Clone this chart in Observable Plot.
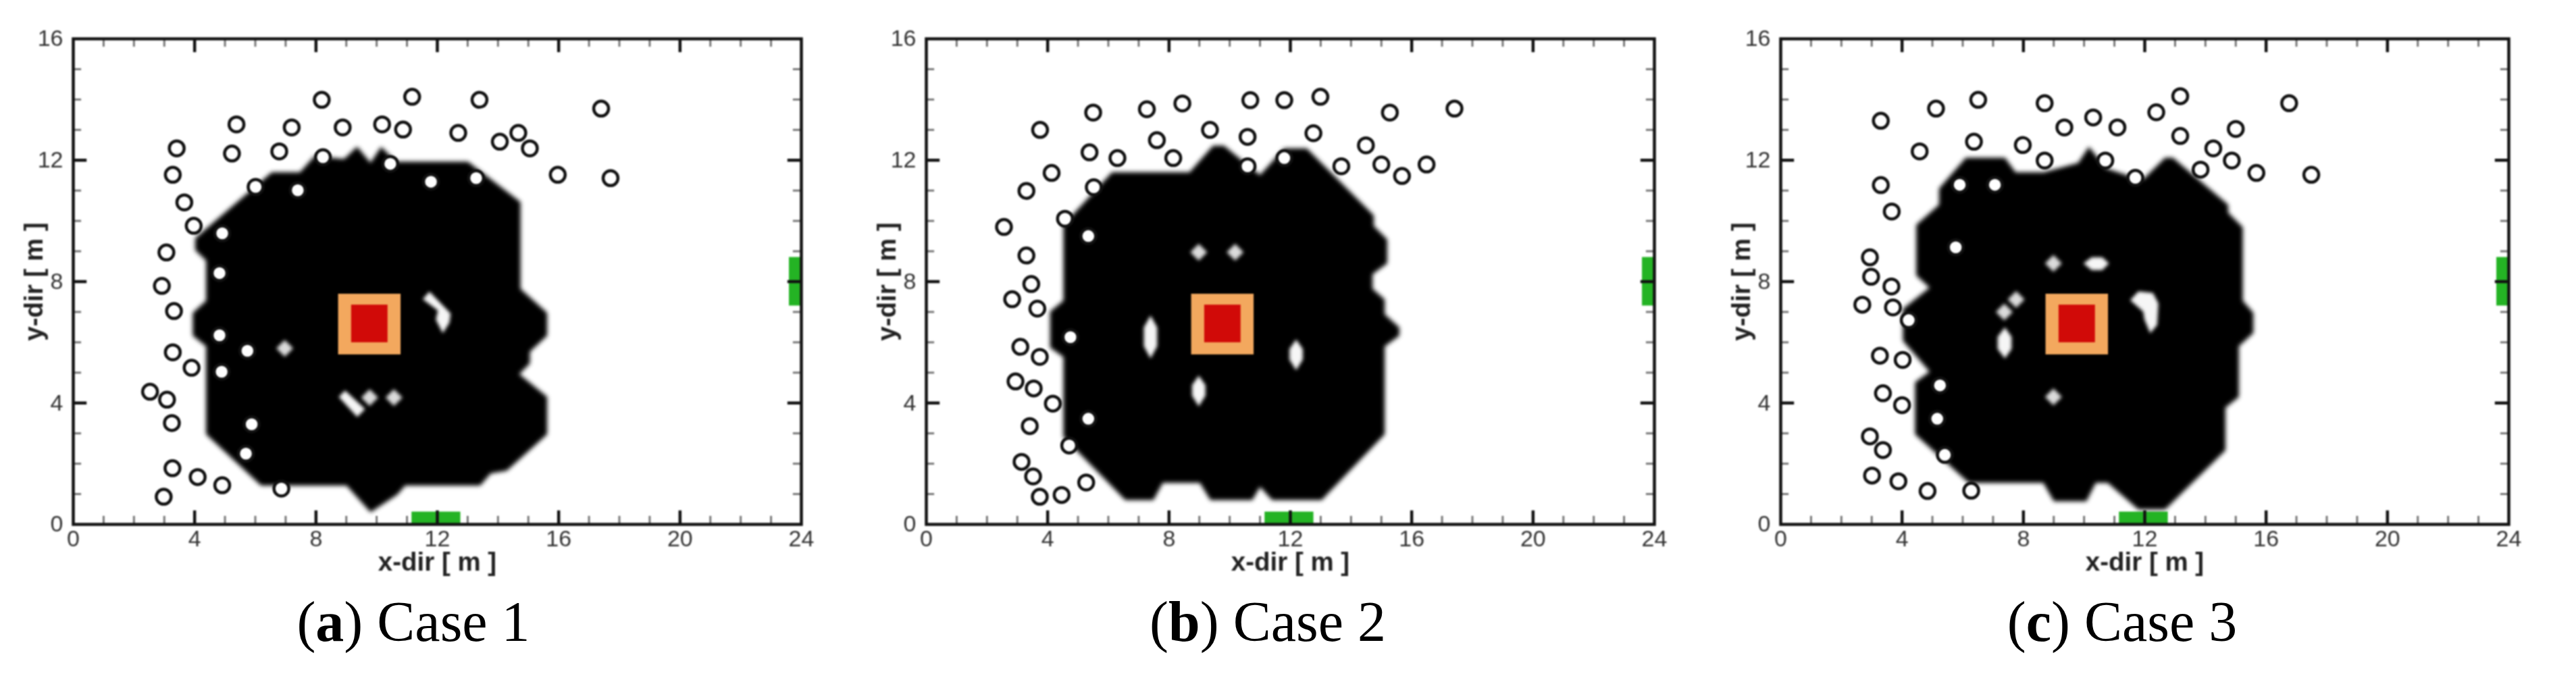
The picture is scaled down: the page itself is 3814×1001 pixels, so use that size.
<!DOCTYPE html>
<html>
<head>
<meta charset="utf-8">
<script src="https://cdn.jsdelivr.net/npm/d3@7"></script>
<script src="https://cdn.jsdelivr.net/npm/@observablehq/plot@0.6"></script>
<style>
html,body{margin:0;padding:0;background:#fff;}
#page{position:relative;width:3814px;height:1001px;overflow:hidden;background:#fff;}
#page svg{position:absolute;top:0;filter:blur(0.9px);}
.cap{position:absolute;top:873px;width:700px;text-align:center;font-family:"Liberation Serif",serif;font-size:84px;line-height:96px;color:#000;}
</style>
</head>
<body>
<div id="page"></div>
<script>
const xTicks = [0,4,8,12,16,20,24];
const yTicks = [0,4,8,12,16];
const xMinor = d3.range(1,24).filter(d => d % 4);
const yMinor = d3.range(1,16).filter(d => d % 4);
const xLabel = "x-dir [ m ]";
const yLabel = "y-dir [ m ]";
const captionLetters = ["a","b","c"];
const captionNames = ["Case 1","Case 2","Case 3"];

const outerSquare = [8.74,10.8,5.59,7.59];
const innerSquare = [9.17,10.37,5.99,7.23];
const bottomVent = [11.16,12.77,0,0.41];
const rightVent = [23.6,24,7.2,8.8];

const case1Circles = [[3.41,12.39],[3.28,11.52],[3.66,10.61],[3.97,9.84],[3.07,8.96],[2.92,7.86],[3.32,7.03],[3.28,5.67],[3.9,5.16],[2.53,4.37],[3.09,4.11],[3.25,3.34],[3.27,1.85],[4.1,1.56],[4.91,1.29],[2.98,0.91],[6.86,1.18],[5.38,13.18],[5.23,12.22],[7.2,13.08],[6.79,12.29],[8.19,13.99],[8.88,13.08],[8.23,12.1],[10.18,13.18],[10.87,13.01],[11.17,14.09],[13.39,13.99],[12.69,12.9],[14.06,12.61],[14.67,12.9],[15.05,12.39],[17.4,13.7],[15.97,11.52],[17.71,11.41],[6.01,11.12],[7.4,11.01],[10.45,11.88],[11.79,11.29],[13.28,11.41],[4.91,9.59],[4.82,8.28],[4.82,6.23],[5.74,5.72],[4.89,5.03],[5.88,3.3],[5.69,2.33]];
const case2Circles = [[3.75,13],[5.5,13.57],[7.27,13.68],[8.44,13.87],[10.68,13.98],[11.8,13.98],[12.99,14.09],[15.28,13.57],[17.41,13.7],[9.35,13],[7.6,12.66],[10.59,12.77],[12.76,12.89],[14.49,12.49],[5.38,12.26],[6.3,12.07],[8.14,12.07],[10.59,11.8],[11.8,12.07],[13.68,11.8],[15,11.86],[15.68,11.48],[16.49,11.86],[4.13,11.58],[5.52,11.11],[3.3,10.99],[2.56,9.8],[4.57,10.07],[5.34,9.5],[3.3,8.86],[3.46,7.92],[2.83,7.42],[3.66,7.11],[4.75,6.17],[3.1,5.85],[3.74,5.52],[2.94,4.71],[3.54,4.48],[4.17,3.98],[5.34,3.48],[3.41,3.24],[4.71,2.6],[3.14,2.06],[3.52,1.58],[3.74,0.91],[4.46,0.97],[5.27,1.38]];
const case3Circles = [[3.3,13.3],[5.12,13.7],[6.51,13.99],[8.7,13.88],[10.3,13.41],[9.35,13.08],[11.1,13.08],[12.38,13.58],[13.17,14.11],[16.76,13.88],[13.17,12.8],[15,13.03],[14.26,12.39],[14.87,11.99],[13.84,11.69],[15.68,11.58],[17.49,11.52],[4.58,12.29],[6.37,12.61],[7.98,12.5],[8.7,11.99],[10.7,11.99],[11.69,11.42],[5.9,11.19],[7.06,11.19],[3.3,11.18],[3.66,10.31],[5.77,9.13],[2.94,8.8],[2.98,8.16],[3.65,7.84],[2.69,7.24],[3.7,7.15],[4.22,6.73],[3.27,5.56],[4.02,5.42],[5.25,4.58],[3.37,4.32],[4,3.93],[5.16,3.48],[2.94,2.9],[3.37,2.45],[5.41,2.29],[3.01,1.61],[3.88,1.42],[4.84,1.1],[6.28,1.11]];

const case1Blob = [[9.36,12.43],[9.8,11.9],[10.15,12.43],[10.64,11.94],[13.01,11.94],[14.73,10.62],[14.73,7.76],[15.61,6.97],[15.61,6.22],[15.04,5.69],[15.04,5.3],[14.69,4.95],[15.61,4.2],[15.61,2.97],[14.29,1.78],[13.76,1.69],[13.41,1.29],[10.94,1.29],[10.68,0.99],[9.8,0.41],[9.01,1.29],[6.19,1.29],[4.39,2.97],[4.39,5.87],[3.95,6.22],[3.95,6.97],[4.39,7.37],[4.39,8.69],[4.03,9.04],[4.03,9.43],[6.54,11.59],[7.47,11.59],[7.95,12.12],[8.92,12.03]];
const case2Blob = [[9.46,12.47],[9.81,12.47],[11,11.5],[11.8,12.38],[12.54,12.38],[14.74,10.18],[14.74,9.83],[15.18,9.39],[15.18,8.6],[14.7,8.25],[14.7,7.76],[15.1,7.41],[15.1,6.92],[15.58,6.49],[15.58,6.22],[15.1,5.87],[15.1,2.97],[13.03,0.81],[11.4,0.81],[11,1.25],[10.74,0.81],[9.37,0.81],[9.02,1.38],[7.79,1.38],[7.48,0.81],[6.56,0.81],[4.53,2.88],[4.53,5.52],[4.09,5.83],[4.09,7.01],[4.53,7.37],[4.53,9.87],[6.12,11.59],[8.67,11.59]];
const case3Blob = [[6.11,12.07],[7.39,12.07],[7.74,11.59],[8.66,11.59],[9.81,11.9],[10.16,12.43],[10.73,11.72],[11.52,11.46],[11.96,11.37],[12.67,12.07],[12.93,12.07],[14.74,10.53],[14.74,10.27],[15.22,9.79],[15.22,7.37],[15.57,6.97],[15.57,6.31],[15.09,5.87],[15.09,4.2],[14.65,3.85],[14.65,2.44],[12.67,0.5],[11.79,0.5],[10.78,1.38],[10.38,1.38],[10.07,0.77],[9.01,0.77],[8.66,1.38],[6.2,1.38],[4.44,2.97],[4.44,4.68],[4.92,5.03],[4.04,6.05],[4.04,7.1],[4.92,7.8],[4.48,8.2],[4.48,9.87],[5.23,10.53],[5.23,11.06]];

const case1Holes = [[[11.74,7.67],[12.44,6.95],[12.4,6.65],[12.18,6.3],[11.95,6.75],[12.02,7.05],[11.52,7.42]],[[8.75,4.2],[8.96,4.41],[9.62,3.8],[9.36,3.54]]];
const case2Holes = [[[7.39,6.88],[7.61,6.49],[7.61,5.87],[7.39,5.47],[7.17,5.87],[7.17,6.49]],[[12.19,6.09],[12.41,5.78],[12.41,5.43],[12.19,5.08],[11.97,5.43],[11.97,5.78]],[[8.98,4.9],[9.2,4.59],[9.2,4.24],[8.98,3.89],[8.76,4.24],[8.76,4.59]]];
const case3Holes = [[[11.52,7.39],[11.79,7.68],[12.27,7.63],[12.45,7.28],[12.41,6.57],[12.18,6.3],[11.99,6.75],[11.95,7.01]],[[9.98,8.6],[10.25,8.8],[10.6,8.8],[10.82,8.6],[10.6,8.38],[10.25,8.38]],[[7.39,6.49],[7.61,6.18],[7.61,5.78],[7.39,5.47],[7.15,5.78],[7.15,6.18]]];

const case1Diamonds = [[6.97,5.8],[9.77,4.18],[10.57,4.18]];
const case2Diamonds = [[8.98,8.97],[10.18,8.97]];
const case3Diamonds = [[8.99,8.6],[7.76,7.41],[7.37,7],[8.99,4.2]];

const cases = [
  {left:0,   capCenter:612,  circles:case1Circles, blob:case1Blob, holes:case1Holes, diamonds:case1Diamonds},
  {left:1263,capCenter:1877, circles:case2Circles, blob:case2Blob, holes:case2Holes, diamonds:case2Diamonds},
  {left:2528,capCenter:3142, circles:case3Circles, blob:case3Blob, holes:case3Holes, diamonds:case3Diamonds}
];

const toRect = r => [{x1:r[0],x2:r[1],y1:r[2],y2:r[3]}];
const page = document.getElementById("page");

cases.forEach((c,i) => {
  const holeRows = c.holes.flatMap((h,k) => h.map(p => ({x:p[0],y:p[1],k})));
  const svg = Plot.plot({
    width:1270, height:850,
    marginLeft:108, marginRight:84, marginTop:57, marginBottom:74,
    style:{fontFamily:"'Liberation Sans',Arial,sans-serif",background:"transparent",overflow:"visible"},
    x:{domain:[0,24]}, y:{domain:[0,16]},
    marks:[
      Plot.line(c.blob,{x:d=>d[0],y:d=>d[1],curve:"linear-closed",fill:"#000",stroke:"#000",strokeWidth:1,imageFilter:"blur(3px)"}),
      Plot.line(holeRows,{x:"x",y:"y",z:"k",curve:"linear-closed",fill:"#f6f6f6",stroke:"none",imageFilter:"blur(2.5px)"}),
      Plot.dot(c.diamonds,{x:d=>d[0],y:d=>d[1],symbol:"square",rotate:45,r:10,fill:"#dcdcdc",imageFilter:"blur(2.5px)"}),
      Plot.rect(toRect(outerSquare),{x1:"x1",x2:"x2",y1:"y1",y2:"y2",fill:"#f3a85e"}),
      Plot.rect(toRect(innerSquare),{x1:"x1",x2:"x2",y1:"y1",y2:"y2",fill:"#d10a08"}),
      Plot.rect(toRect(bottomVent),{x1:"x1",x2:"x2",y1:"y1",y2:"y2",fill:"#24b324"}),
      Plot.rect(toRect(rightVent),{x1:"x1",x2:"x2",y1:"y1",y2:"y2",fill:"#24b324"}),
      Plot.dot(c.circles,{x:d=>d[0],y:d=>d[1],r:11,fill:"#fff",stroke:"#111",strokeWidth:4.5}),
      Plot.ruleX(xMinor,{y1:0,y2:0.27,stroke:"#777",strokeWidth:3}),
      Plot.ruleX(xMinor,{y1:16,y2:15.73,stroke:"#777",strokeWidth:3}),
      Plot.ruleY(yMinor,{x1:0,x2:0.27,stroke:"#777",strokeWidth:3}),
      Plot.ruleY(yMinor,{x1:24,x2:23.73,stroke:"#777",strokeWidth:3}),
      Plot.ruleX(xTicks.slice(1,-1),{y1:0,y2:0.45,stroke:"#111",strokeWidth:4.5}),
      Plot.ruleX(xTicks.slice(1,-1),{y1:16,y2:15.55,stroke:"#111",strokeWidth:4.5}),
      Plot.ruleY(yTicks.slice(1,-1),{x1:0,x2:0.45,stroke:"#111",strokeWidth:4.5}),
      Plot.ruleY(yTicks.slice(1,-1),{x1:24,x2:23.55,stroke:"#111",strokeWidth:4.5}),
      Plot.frame({stroke:"#111",strokeWidth:4.5}),
      Plot.axisX({ticks:xTicks,tickSize:0,tickPadding:8,label:null,fontSize:34,fill:"#333",tickFormat:d3.format("d")}),
      Plot.axisY({ticks:yTicks,tickSize:0,tickPadding:15,label:null,fontSize:34,fill:"#333",tickFormat:d3.format("d")}),
      Plot.text([xLabel],{frameAnchor:"bottom",dy:56,lineAnchor:"middle",text:d=>d,fontSize:38.5,fontWeight:"bold",fill:"#222"}),
      Plot.text([yLabel],{frameAnchor:"left",dx:-58,rotate:-90,textAnchor:"middle",text:d=>d,fontSize:38.5,fontWeight:"bold",fill:"#222"})
    ]
  });
  svg.style.left = c.left + "px";
  page.appendChild(svg);
  const cap = document.createElement("div");
  cap.className = "cap";
  cap.style.left = (c.capCenter - 350) + "px";
  cap.innerHTML = "(<b>" + captionLetters[i] + "</b>) " + captionNames[i];
  page.appendChild(cap);
});
</script>
</body>
</html>
